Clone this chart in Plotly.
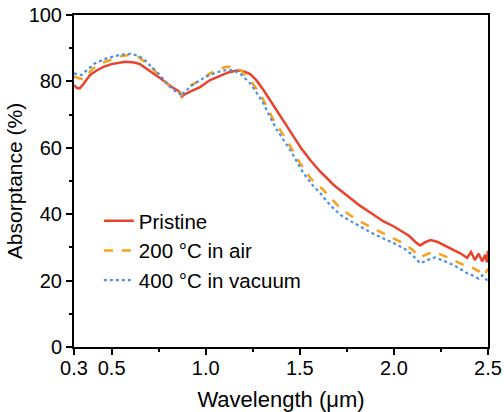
import plotly.graph_objects as go

# wavelength (um) / absorptance (%)
wl_pristine = [0.30, 0.315, 0.33, 0.35, 0.385, 0.42, 0.456, 0.50, 0.571, 0.62, 0.651, 0.69, 0.722, 0.76,
               0.793, 0.82, 0.846, 0.862, 0.873, 0.885, 0.92, 0.97, 1.023, 1.077, 1.12, 1.165, 1.20, 1.236,
               1.27, 1.307, 1.35, 1.396, 1.43, 1.467, 1.51, 1.555, 1.609, 1.68, 1.715, 1.77, 1.821, 1.88,
               1.945, 2.00, 2.034, 2.08, 2.123, 2.14, 2.165, 2.194, 2.23, 2.27, 2.317, 2.35, 2.389, 2.41,
               2.43, 2.45, 2.47, 2.485, 2.495, 2.50]
abs_pristine = [78.9, 78.0, 77.9, 79.2, 81.9, 83.3, 84.4, 85.2, 85.9, 85.7, 85.2, 83.8, 82.4, 80.9,
                79.4, 78.3, 77.4, 76.8, 75.4, 76.0, 77.0, 78.3, 80.4, 81.6, 82.7, 83.3, 83.1, 82.2,
                80.3, 77.4, 73.6, 69.4, 66.3, 63.3, 59.6, 56.3, 52.8, 48.8, 47.3, 44.7, 42.5, 40.3,
                37.8, 36.3, 35.0, 33.5, 31.2, 30.6, 31.5, 32.2, 31.7, 30.6, 29.2, 28.3, 26.9, 28.6,
                26.2, 28.1, 25.8, 27.8, 25.5, 29.0]

wl_air = [0.30, 0.33, 0.35, 0.375, 0.40, 0.45, 0.509, 0.55, 0.598, 0.64, 0.687, 0.72, 0.757, 0.79,
          0.81, 0.84, 0.862, 0.872, 0.885, 0.92, 0.97, 1.023, 1.07, 1.112, 1.15, 1.19, 1.236, 1.27,
          1.307, 1.36, 1.431, 1.502, 1.56, 1.62, 1.715, 1.77, 1.821, 1.88, 1.945, 2.00, 2.052, 2.10,
          2.14, 2.17, 2.211, 2.26, 2.317, 2.35, 2.39, 2.42, 2.45, 2.47, 2.49, 2.50]
abs_air = [81.4, 80.8, 80.6, 82.2, 83.9, 85.6, 86.9, 87.6, 88.0, 87.4, 85.4, 83.7, 81.4, 79.4,
           78.4, 77.2, 76.5, 75.8, 76.9, 78.8, 80.3, 82.4, 83.7, 84.4, 84.3, 83.2, 80.4, 77.8,
           74.4, 68.4, 62.3, 55.3, 50.6, 47.6, 41.8, 39.6, 37.8, 36.0, 34.2, 32.7, 31.2, 29.2,
           27.0, 27.8, 28.7, 27.6, 26.2, 25.4, 24.2, 23.8, 22.8, 24.0, 22.6, 23.5]

wl_vac = [0.30, 0.32, 0.34, 0.37, 0.41, 0.47, 0.545, 0.60, 0.635, 0.669, 0.70, 0.74, 0.78, 0.81,
          0.84, 0.862, 0.872, 0.885, 0.92, 0.97, 1.02, 1.07, 1.11, 1.146, 1.19, 1.236, 1.27, 1.306,
          1.34, 1.378, 1.449, 1.52, 1.57, 1.609, 1.66, 1.715, 1.77, 1.821, 1.88, 1.945, 2.00, 2.052,
          2.10, 2.14, 2.18, 2.22, 2.27, 2.317, 2.35, 2.39, 2.42, 2.45, 2.47, 2.49, 2.50]
abs_vac = [82.4, 82.2, 81.9, 83.5, 85.4, 86.9, 88.0, 88.3, 87.8, 86.9, 85.0, 82.9, 80.2, 78.4,
           77.0, 76.3, 75.6, 76.6, 78.5, 80.4, 81.9, 82.9, 83.4, 83.4, 82.0, 79.4, 76.6, 73.4,
           69.5, 65.4, 59.3, 52.3, 48.6, 46.3, 42.8, 39.8, 37.9, 36.2, 34.4, 32.7, 31.3, 29.8,
           27.6, 25.2, 26.2, 27.0, 25.8, 24.7, 23.6, 22.2, 21.5, 20.6, 21.6, 20.2, 19.8]

x_ticks = [0.3, 0.5, 1.0, 1.5, 2.0, 2.5]
x_ticktext = ["0.3", "0.5", "1.0", "1.5", "2.0", "2.5"]

fig = go.Figure()
fig.add_trace(go.Scatter(x=wl_pristine, y=abs_pristine, mode="lines", name="Pristine",
                         line=dict(color="#E8432D", width=2.5)))
fig.add_trace(go.Scatter(x=wl_air, y=abs_air, mode="lines", name="200 °C in air",
                         line=dict(color="#F7A21B", width=2.5, dash="dash")))
fig.add_trace(go.Scatter(x=wl_vac, y=abs_vac, mode="lines", name="400 °C in vacuum",
                         line=dict(color="#4A8FE8", width=2.2, dash="dot")))

fig.update_layout(
    width=504, height=412,
    margin=dict(l=74, r=16, t=15, b=65),
    plot_bgcolor="white", paper_bgcolor="white",
    font=dict(family="Liberation Sans, Arial", size=20, color="black"),
    showlegend=True,
    legend=dict(x=0.06, y=0.44, xanchor="left", yanchor="top",
                bgcolor="rgba(0,0,0,0)", font=dict(size=20.5), tracegroupgap=0),
)
fig.update_xaxes(
    range=[0.3, 2.5], tickmode="array", tickvals=x_ticks, ticktext=x_ticktext,
    ticks="outside", ticklen=6, tickwidth=1.5, tickcolor="black",
    showline=True, linecolor="black", linewidth=2, mirror=True,
    showgrid=False, zeroline=False, automargin=False,
    ticklabeloverflow="allow", ticklabelstandoff=-4,
    minor=dict(tickvals=[0.75, 1.25, 1.75, 2.25], ticks="outside", ticklen=3, tickcolor="black"),
    title=dict(text="Wavelength (μm)", font=dict(size=22)),
)
fig.update_yaxes(
    range=[0, 100], tickvals=[0, 20, 40, 60, 80, 100],
    ticks="outside", ticklen=6, tickwidth=1.5, tickcolor="black",
    showline=True, linecolor="black", linewidth=2, mirror=True,
    showgrid=False, zeroline=False, automargin=False,
    ticklabeloverflow="allow",
    minor=dict(tickvals=[10, 30, 50, 70, 90], ticks="outside", ticklen=3, tickcolor="black"),
    title=dict(text="Absorptance (%)", font=dict(size=21), standoff=0),
)

# drop the browser's default 8px body margin so the figure fills the window
fig.write_html("out.html", config={"displayModeBar": False},
               post_script="document.body.style.margin = '0';")
